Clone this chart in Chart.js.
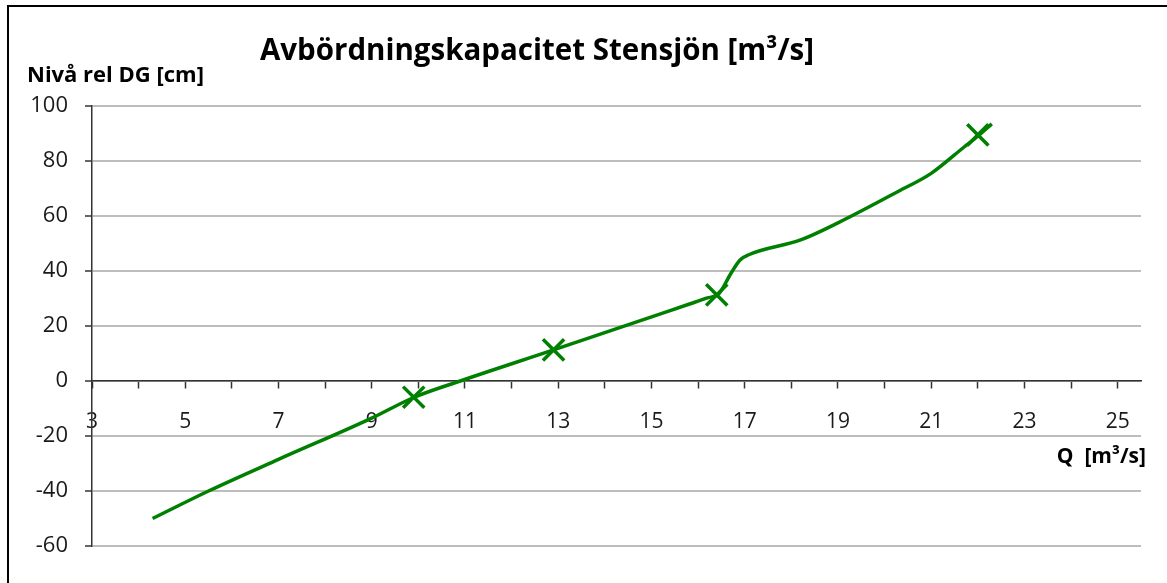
<!DOCTYPE html>
<html><head><meta charset="utf-8">
<script src="https://cdn.jsdelivr.net/npm/chart.js@4.4.1/dist/chart.umd.min.js"></script>
<style>html,body{margin:0;padding:0;background:#fff;} canvas{display:block;}</style>
</head><body>
<canvas id="c" width="1167" height="583"></canvas>
<script>
const chartTitle = 'Avbördningskapacitet Stensjön [m³/s]';
const yAxisTitle = 'Nivå rel DG [cm]';
const xAxisTitle = 'Q  [m³/s]';

const curveQ     = [4.3, 5.5, 7.0, 9.0, 9.9, 10.9, 12.9, 15.8, 16.2, 16.45, 16.7, 16.9, 17.1, 18.2, 19.0, 20.3, 21.0, 21.7, 22.0, 22.3];
const curveLevel = [-50, -40, -28.5, -13.5, -6, 0, 11.3, 27.9, 30.2, 31.8, 39.0, 44, 46, 51.3, 57.5, 69, 75.5, 85, 89, 93.5];

const markerQ     = [9.9, 12.9, 16.4, 22.0];
const markerLevel = [-5.9, 11.3, 31.3, 89.5];

const xTickValues  = [3,4,5,6,7,8,9,10,11,12,13,14,15,16,17,18,19,20,21,22,23,24,25];
const xLabelValues = [3,5,7,9,11,13,15,17,19,21,23,25];
const yTickValues  = [-60,-40,-20,0,20,40,60,80,100];

const GREEN = '#008000';
const FONT = '"Open Sans", "DejaVu Sans", sans-serif';

const textPlugin = {
  id: 'texts',
  beforeDraw(chart) {
    const ctx = chart.ctx;
    ctx.save();
    ctx.fillStyle = '#fff';
    ctx.fillRect(0, 0, chart.width, chart.height);
    ctx.strokeStyle = '#000';
    ctx.lineWidth = 2;
    ctx.strokeRect(8, 6, 1400, 800);
    ctx.restore();
  },
  afterDraw(chart) {
    const ctx = chart.ctx;
    ctx.save();
    ctx.fillStyle = '#000';
    ctx.textBaseline = 'middle';
    ctx.font = 'bold 29.5px ' + FONT;
    ctx.textAlign = 'center';
    ctx.fillText(chartTitle, 537, 52);
    ctx.font = 'bold 22px ' + FONT;
    ctx.textAlign = 'left';
    ctx.fillText(yAxisTitle, 27, 76);
    ctx.font = 'bold 21px ' + FONT;
    ctx.textAlign = 'right';
    ctx.fillText(xAxisTitle, 1146, 457);
    ctx.restore();
  }
};

new Chart(document.getElementById('c'), {
  type: 'scatter',
  data: {
    datasets: [
      {
        label: 'curve',
        data: curveQ.map((q, i) => ({x: q, y: curveLevel[i]})),
        showLine: true,
        borderColor: GREEN,
        borderWidth: 3.5,
        pointRadius: 0,
        cubicInterpolationMode: 'monotone',
        fill: false
      },
      {
        label: 'points',
        data: markerQ.map((q, i) => ({x: q, y: markerLevel[i]})),
        showLine: false,
        pointStyle: 'crossRot',
        pointRadius: 15,
        pointBorderWidth: 3.5,
        borderColor: GREEN,
        backgroundColor: GREEN
      }
    ]
  },
  options: {
    responsive: false,
    animation: false,
    devicePixelRatio: 1,
    layout: { padding: { top: 106, left: 12, right: 26, bottom: 37 } },
    plugins: { legend: { display: false }, title: { display: false }, tooltip: { enabled: false } },
    scales: {
      x: {
        type: 'linear',
        position: { y: 0 },
        min: 3,
        max: 25.5,
        afterFit(scale) { scale.height = 0; },
        afterBuildTicks(scale) { scale.ticks = xTickValues.map(v => ({ value: v })); },
        grid: { drawOnChartArea: false, drawTicks: true, tickLength: 7, tickColor: '#333', tickWidth: 1.5 },
        border: { display: true, color: '#333', width: 1.5 },
        ticks: {
          autoSkip: false,
          maxRotation: 0,
          padding: 21,
          color: '#1a1a1a',
          font: { family: FONT, size: 21 },
          callback: (v) => xLabelValues.includes(v) ? String(v) : ''
        }
      },
      y: {
        type: 'linear',
        position: 'left',
        min: -60,
        max: 100,
        afterFit(scale) { scale.width = 80; },
        afterBuildTicks(scale) { scale.ticks = yTickValues.map(v => ({ value: v })); },
        grid: { color: '#bdbdbd', lineWidth: 2, drawTicks: true, tickLength: 7, tickColor: '#333', tickWidth: 1.5 },
        border: { display: true, color: '#333', width: 1.5 },
        ticks: {
          padding: 17,
          color: '#1a1a1a',
          font: { family: FONT, size: 22 }
        }
      }
    }
  },
  plugins: [textPlugin]
});
</script>
</body></html>
